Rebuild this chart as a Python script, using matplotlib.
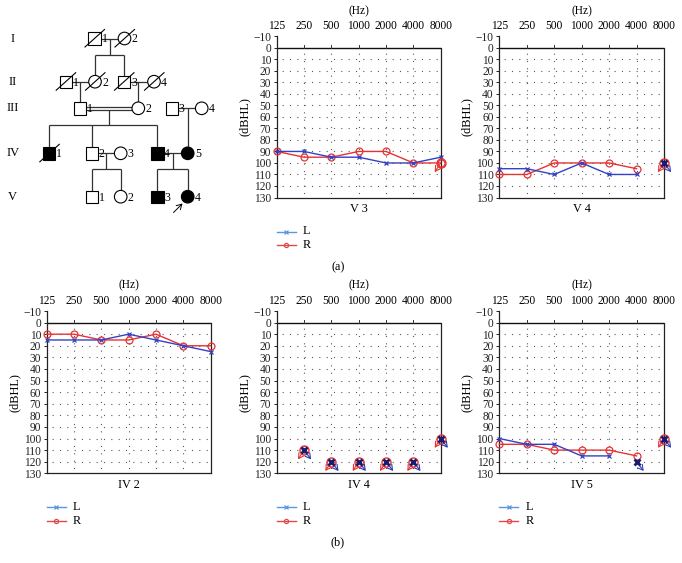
import numpy as np
import matplotlib
matplotlib.use("Agg")
import matplotlib.pyplot as plt
from matplotlib.patches import Rectangle, Circle

plt.rcParams['font.family'] = ['Liberation Serif', 'DejaVu Serif']

# ---------------- data ----------------
freqs = ['125', '250', '500', '1000', '2000', '4000', '8000']
yticks_db = list(range(-10, 131, 10))

# line series (None = no connected point); *_nr = no-response thresholds
V3_L = [90, 90, 95, 95, 100, 100, 95]
V3_L_nr = [None] * 7
V3_R = [90, 95, 95, 90, 90, 100, 100]
V3_R_nr = [None, None, None, None, None, None, 100]

V4_L = [105, 105, 110, 100, 110, 110, None]
V4_L_nr = [None, None, None, None, None, None, 100]
V4_R = [110, 110, 100, 100, 100, 105, None]
V4_R_nr = [None, None, None, None, None, None, 100]

IV2_L = [15, 15, 15, 10, 15, 20, 25]
IV2_L_nr = [None] * 7
IV2_R = [10, 10, 15, 15, 10, 20, 20]
IV2_R_nr = [None] * 7

IV4_L = [None] * 7
IV4_L_nr = [None, 110, 120, 120, 120, 120, 100]
IV4_R = [None] * 7
IV4_R_nr = [None, 110, 120, 120, 120, 120, 100]

IV5_L = [100, 105, 105, 115, 115, None, None]
IV5_L_nr = [None, None, None, None, None, 120, 100]
IV5_R = [105, 105, 110, 110, 110, 115, None]
IV5_R_nr = [None, None, None, None, None, None, 100]

panels = [
    ('V 3', V3_L, V3_L_nr, V3_R, V3_R_nr),
    ('V 4', V4_L, V4_L_nr, V4_R, V4_R_nr),
    ('IV 2', IV2_L, IV2_L_nr, IV2_R, IV2_R_nr),
    ('IV 4', IV4_L, IV4_L_nr, IV4_R, IV4_R_nr),
    ('IV 5', IV5_L, IV5_L_nr, IV5_R, IV5_R_nr),
]

# ---------------- layout ----------------
W, H = 682, 563
fig = plt.figure(figsize=(W / 100, H / 100), dpi=100)

bg = fig.add_axes([0, 0, 1, 1])
bg.set_xlim(0, W)
bg.set_ylim(H, 0)
bg.axis('off')

# axes pixel boxes: left, right, top(-10), bottom(130)
boxes = [
    (276.7, 440.7, 36.3, 197.5),
    (499.3, 664.0, 36.3, 197.5),
    (46.7, 210.7, 311.0, 473.3),
    (276.7, 440.7, 311.0, 473.3),
    (499.3, 664.0, 311.0, 473.3),
]
legend_on = [True, False, True, True, True]

BLUE = '#3341c2'
RED = '#e63232'
NAVY = '#1a1a70'
LBLUE = '#5b96e0'
LRED = '#e24a4a'
GRID = '#5a5a5a'


def vals(a):
    return np.array([np.nan if v is None else v for v in a], dtype=float)


def arrow(ax, x, y, dx, dy, color):
    ax.annotate('', xy=(x + dx, y + dy), xytext=(x, y),
                arrowprops=dict(arrowstyle='->,head_length=0.6,head_width=0.35', color=color,
                                lw=0.8, shrinkA=0, shrinkB=0, mutation_scale=6),
                annotation_clip=False, zorder=6)


for (title, L, Lnr, R, Rnr), (x0, x1, y0, y1), leg in zip(panels, boxes, legend_on):
    ax = fig.add_axes([x0 / W, 1 - y1 / H, (x1 - x0) / W, (y1 - y0) / H])
    ax.set_xlim(0, 6)
    ax.set_ylim(130, -10)
    ax.set_facecolor('none')
    ax.spines['top'].set_visible(False)
    ax.spines['right'].set_bounds(0, 130)
    for s in ['left', 'bottom', 'right']:
        ax.spines[s].set_color('#222222')
        ax.spines[s].set_linewidth(0.9)
    ax.axhline(0, color='#111111', lw=1.0, zorder=2)
    xs = np.arange(len(freqs))
    for yv in range(10, 130, 10):
        ax.plot([0, 6], [yv, yv], color=GRID, lw=0.8, ls=(2, (1.0, 5.6)), zorder=1)
    for xv in range(1, 6):
        ax.plot([xv, xv], [0, 130], color=GRID, lw=0.8, ls=(2, (1.0, 5.6)), zorder=1)
        ax.plot([xv, xv], [-2.5, 0], color='#333333', lw=0.7, zorder=2)
    ax.set_yticks(yticks_db)
    ax.set_yticklabels([('\u2212' + str(-v)) if v < 0 else str(v) for v in yticks_db], fontsize=8.3)
    ax.tick_params(axis='y', length=2.5, width=0.7, pad=1.5, colors='#222222')
    ax.xaxis.tick_top()
    ax.set_xticks(xs)
    ax.set_xticklabels(freqs, fontsize=8.3)
    ax.tick_params(axis='x', length=0, pad=3)
    ax.xaxis.set_label_position('top')
    ax.set_xlabel('(Hz)', fontsize=8.3, labelpad=4.5)
    ax.set_ylabel('(dBHL)', fontsize=8.8, labelpad=2)

    lv = vals(L)
    rv = vals(R)
    ax.plot(xs, lv, color=BLUE, lw=1.0, marker='x', ms=3.5, mew=0.9, zorder=4, clip_on=False)
    ax.plot(xs, rv, color=RED, lw=1.0, marker='o', ms=5, mfc='none', mew=0.9, zorder=3, clip_on=False)

    # no-response symbols
    for xi, v in enumerate(Rnr):
        if v is None:
            continue
        ax.plot(xi, v, marker='o', ms=6.5, mfc='none', mec=RED, mew=1.0, zorder=5, clip_on=False)
        arrow(ax, xi, v, -0.22, 8, RED)
    for xi, v in enumerate(Lnr):
        if v is None:
            continue
        ax.plot(xi, v, marker='x', ms=4.5, mec=NAVY, mew=2.0, zorder=7, clip_on=False)
        arrow(ax, xi, v, 0.26, 8, BLUE if title != 'IV 4' else '#2a3aa8')

    cx = (x0 + x1) / 2
    bg.text(cx, y1 + 12, title, ha='center', va='center', fontsize=8.8)
    if leg:
        lx0 = x0
        lx1 = x0 + 19
        ly = y1 + 34
        bg.plot([lx0, lx1], [ly, ly], color=LBLUE, lw=1.0)
        bg.plot([(lx0 + lx1) / 2], [ly], marker='x', ms=3, color=LBLUE, mew=0.9)
        bg.text(lx1 + 7, ly, 'L', ha='left', va='center', fontsize=8.8)
        ly2 = ly + 13.5
        bg.plot([lx0, lx1], [ly2, ly2], color=LRED, lw=1.0)
        bg.plot([(lx0 + lx1) / 2], [ly2], marker='o', ms=3, color=LRED, mfc='none', mew=0.9)
        bg.text(lx1 + 7, ly2, 'R', ha='left', va='center', fontsize=8.8)

bg.text(338, 267, '(a)', ha='center', va='center', fontsize=8.8)
bg.text(338, 542, '(b)', ha='center', va='center', fontsize=8.8)

# ---------------- pedigree ----------------
S = 12.4  # square side
RAD = 6.3
LC = '#333333'


def line(pts, **kw):
    p = np.array(pts)
    bg.plot(p[:, 0], p[:, 1], color=LC, lw=0.9, solid_capstyle='butt', zorder=2, **kw)


def male(x, y, lab, filled=False, dead=False):
    bg.add_patch(Rectangle((x - S / 2, y - S / 2), S, S, fc='black' if filled else 'white',
                           ec='black', lw=0.8, zorder=3))
    if dead:
        bg.plot([x - 9.5, x + 10], [y + 8.5, y - 9], color='black', lw=0.8, zorder=4)
    bg.text(x + S / 2 + 0.8, y + 1, lab, ha='left', va='center', fontsize=8.5, zorder=5)


def female(x, y, lab, filled=False, dead=False):
    bg.add_patch(Circle((x, y), RAD, fc='black' if filled else 'white', ec='black', lw=0.8, zorder=3))
    if dead:
        bg.plot([x - 9.5, x + 10], [y + 8.5, y - 9], color='black', lw=0.8, zorder=4)
    bg.text(x + RAD + 0.8, y + 1, lab, ha='left', va='center', fontsize=8.5, zorder=5)


gen_y = {'I': 38.5, 'II': 81.7, 'III': 108.3, 'IV': 153.3, 'V': 196.7}
for g, yy in gen_y.items():
    bg.text(12.7, yy, g, ha='center', va='center', fontsize=9)

y1g, y2g, y3g, y4g, y5g = gen_y['I'], gen_y['II'], gen_y['III'], gen_y['IV'], gen_y['V']

# Generation I
line([(94.5, y1g), (124.5, y1g)])
line([(109.5, y1g), (109.5, 55)])
line([(95, 55), (124, 55)])
line([(95, 55), (95, y2g)])
line([(124, 55), (124, y2g)])
male(94.5, y1g, '1', dead=True)
female(124.5, y1g, '2', dead=True)

# Generation II
line([(65.7, y2g), (95, y2g)])
line([(80, y2g), (80, y3g)])
line([(124, y2g), (154, y2g)])
line([(138.3, y2g), (138.3, y3g)])
male(65.7, y2g, '1', dead=True)
female(95, y2g, '2', dead=True)
male(124, y2g, '3', dead=True)
female(154, y2g, '4', dead=True)

# Generation III
line([(80, y3g - 1.6), (138.3, y3g - 1.6)])
line([(80, y3g + 1.6), (138.3, y3g + 1.6)])
line([(109.3, y3g + 1.6), (109.3, 125)])
line([(49.3, 125), (157.3, 125)])
line([(49.3, 125), (49.3, y4g)])
line([(91.7, 125), (91.7, y4g)])
line([(157.3, 125), (157.3, y4g)])
line([(171.7, y3g), (201.7, y3g)])
line([(187.7, y3g), (187.7, y4g)])
male(80, y3g, '1')
female(138.3, y3g, '2')
male(171.7, y3g, '3')
female(201.7, y3g, '4')

# Generation IV
line([(91.7, y4g), (120.7, y4g)])
line([(106, y4g), (106, 169.3)])
line([(91.7, 169.3), (120.7, 169.3)])
line([(91.7, 169.3), (91.7, y5g)])
line([(120.7, 169.3), (120.7, y5g)])
line([(157.3, y4g), (187.7, y4g)])
line([(172.7, y4g), (172.7, 169.3)])
line([(157.3, 169.3), (187.7, 169.3)])
line([(157.3, 169.3), (157.3, y5g)])
line([(187.7, 169.3), (187.7, y5g)])
male(49.3, y4g, '1', filled=True, dead=True)
male(91.7, y4g, '2')
female(120.7, y4g, '3')
male(157.3, y4g, '4', filled=True)
female(187.7, y4g, '5', filled=True)

# Generation V
male(91.7, y5g, '1')
female(120.7, y5g, '2')
male(157.3, y5g, '3', filled=True)
female(187.7, y5g, '4', filled=True)
bg.annotate('', xy=(182.5, 203.5), xytext=(173.5, 212.5),
            arrowprops=dict(arrowstyle='->,head_length=0.6,head_width=0.35', color='black', lw=0.7,
                            shrinkA=0, shrinkB=0, mutation_scale=6))

fig.savefig('out.png', dpi=100)
